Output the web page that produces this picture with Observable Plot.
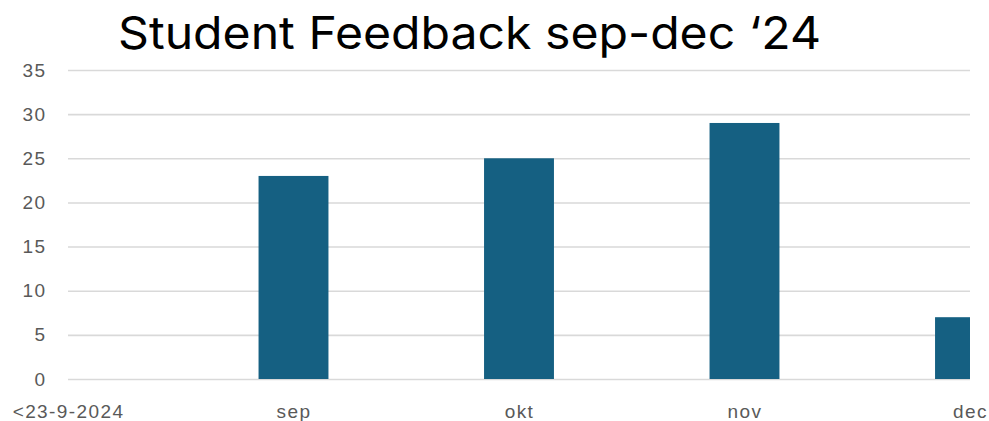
<!DOCTYPE html>
<html>
<head>
<meta charset="utf-8">
<script src="https://cdn.jsdelivr.net/npm/d3@7"></script>
<script src="https://cdn.jsdelivr.net/npm/@observablehq/plot@0.6"></script>
<style>
  html, body { margin: 0; padding: 0; background: #fff; }
  #wrap { position: relative; width: 989px; height: 421px; overflow: hidden; }
  #title { position: absolute; left: 118px; top: 10px; font-family: Inter, sans-serif; font-size: 45px; line-height: 45px; color: #000; white-space: nowrap; transform: scaleX(1.07); transform-origin: left top; }
  #chart { position: absolute; left: 0; top: 60px; }
  #chart svg text { letter-spacing: 1.4px; }
</style>
</head>
<body>
<div id="wrap">
  <div id="title">Student Feedback sep-dec ‘24</div>
  <div id="chart"></div>
</div>
<script>
const categories = ["<23-9-2024", "sep", "okt", "nov", "dec"];
const counts = [0, 23, 25, 29, 7];
const yTicks = [0, 5, 10, 15, 20, 25, 30, 35];

const data = categories.map((c, i) => ({i, c, v: counts[i]}));
const halfBar = 0.155;

const chart = Plot.plot({
  width: 989,
  height: 361,
  marginLeft: 68,
  marginRight: 19,
  marginTop: 10,
  marginBottom: 42,
  style: {fontFamily: "'Liberation Sans', Arial, sans-serif", fontSize: "19px", color: "#595959", background: "transparent"},
  x: {type: "linear", domain: [0, categories.length - 1]},
  y: {domain: [0, 35]},
  marks: [
    Plot.ruleY(yTicks, {stroke: "#d9d9d9", strokeWidth: 1.6}),
    Plot.rectY(data.filter(d => d.v > 0), {
      x1: d => d.i - halfBar,
      x2: d => d.i + halfBar,
      y1: 0,
      y2: "v",
      fill: "#156082",
      clip: true
    }),
    Plot.axisY(yTicks, {tickSize: 0, tickPadding: 22, label: null, fill: "#595959"}),
    Plot.axisX(categories.map((c, i) => i), {tickSize: 0, tickPadding: 25, label: null, tickFormat: i => categories[i], fill: "#595959"})
  ]
});
document.getElementById("chart").appendChild(chart);
</script>
</body>
</html>
